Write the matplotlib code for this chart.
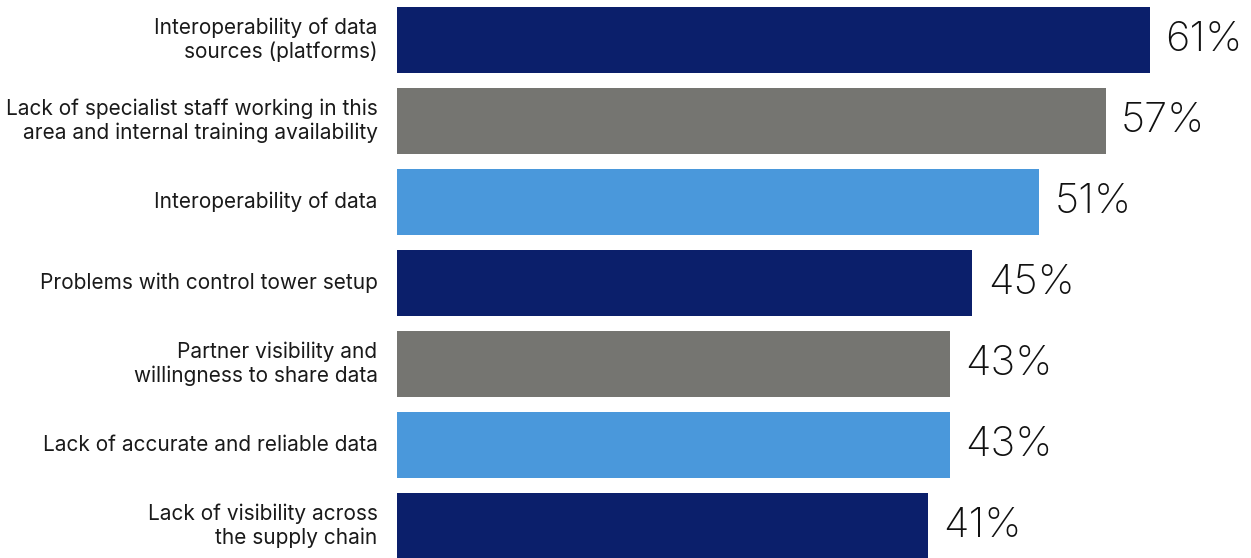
import numpy as np
import matplotlib.pyplot as plt

# ── Data ─────────────────────────────────────────────
labels = [
    "Interoperability of data\nsources (platforms)",
    "Lack of specialist staff working in this\narea and internal training availability",
    "Interoperability of data",
    "Problems with control tower setup",
    "Partner visibility and\nwillingness to share data",
    "Lack of accurate and reliable data",
    "Lack of visibility across\nthe supply chain",
]
values = [61, 57, 51, 45, 43, 43, 41]
colors = ["#0b1f6b", "#757571", "#4a98db", "#0b1f6b", "#757571", "#4a98db", "#0b1f6b"]

# ── Figure ───────────────────────────────────────────
W, H = 1251, 558
fig = plt.figure(figsize=(W / 100, H / 100), dpi=100, facecolor="white")
ax = fig.add_axes([397 / W, 0, 1 - 397 / W, 1])

x0 = -6.85
y = np.arange(len(values))
ax.barh(y, np.array(values) - x0, left=x0, height=0.81, color=colors)

ax.set_xlim(x0, 70.1)
ax.set_ylim(6.395, -0.494)
ax.axis("off")

for yi, v in zip(y, values):
    ax.annotate(f"{v}%", (v, yi), xytext=(11, 0), textcoords="offset points",
                ha="left", va="center", fontsize=30, family="Inter",
                fontweight="light", color="#111111")

for yi, lab in zip(y, labels):
    ax.annotate(lab, (x0, yi), xytext=(-14, 0), textcoords="offset points",
                ha="right", va="center", fontsize=15, family="Inter",
                color="#1a1a1a", linespacing=1.2, annotation_clip=False)

fig.savefig("out.png", dpi=100)
